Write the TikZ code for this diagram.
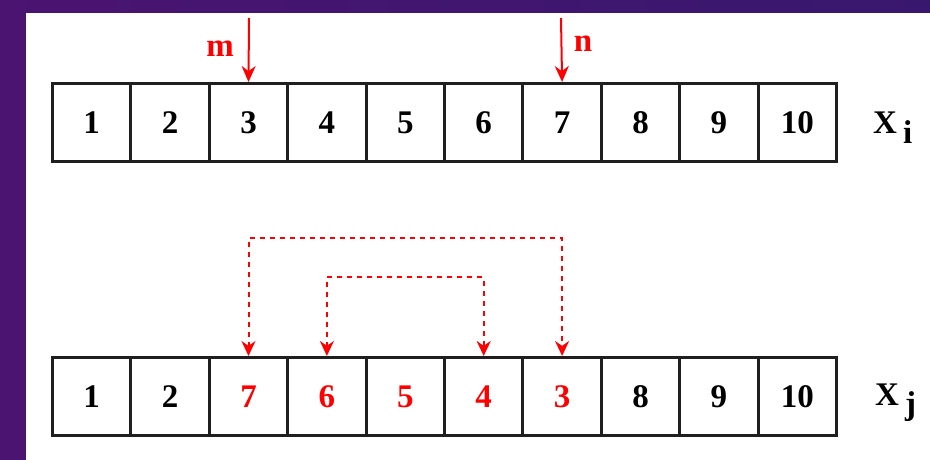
\documentclass[tikz,border=0pt]{standalone}
\usepackage{fontspec}
\setmainfont{Liberation Serif}
\usetikzlibrary{arrows.meta}
\definecolor{purpA}{RGB}{74,20,112}
\definecolor{purpB}{RGB}{56,24,110}
\begin{document}
\begin{tikzpicture}[x=1pt,y=-1pt,
  cell/.style={draw=black!88, line width=3pt, minimum width=78.4pt, minimum height=78pt,
    inner sep=0pt, font=\fontsize{33}{33}\selectfont\bfseries, anchor=north west},
  ptr/.style={draw=red, line width=2pt, -{Stealth[length=16pt,width=14pt]}},
  swaparrow/.style={draw=red, line width=2pt, dash pattern=on 5pt off 5pt,
    {Stealth[length=15pt,width=14pt]}-{Stealth[length=15pt,width=14pt]}},
  lbl/.style={text=red, inner sep=0pt, font=\fontsize{33}{33}\selectfont\bfseries},
  arrname/.style={inner sep=0pt, font=\fontsize{33}{33}\selectfont\bfseries}]
\fill[left color=purpA, right color=purpB] (0,0) rectangle (930,460);
\fill[white] (26,13) rectangle (930,460);
\useasboundingbox (0,0) rectangle (930,460);
% top row
\foreach \i in {1,...,10}
  \node[cell] (t\i) at ({51+(\i-1)*78.4},82) {\i};
% bottom row
\foreach \v/\c [count=\i] in {1/black,2/black,7/red,6/red,5/red,4/red,3/red,8/black,9/black,10/black}
  \node[cell, text=\c] (b\i) at ({51+(\i-1)*78.4},356) {\v};
% pointers
\coordinate (mtop) at (249,18);
\coordinate (ntop) at (561,18);
\draw[ptr] (mtop) -- (t3.north);
\draw[ptr] (ntop) -- (t7.north);
\node[lbl, anchor=base] (mlab) at (220,57) {m};
\node[lbl, anchor=base] (nlab) at (583,52) {n};
% array names
\node[arrname, anchor=base west] (xi) at (873,133) {X\hspace{6pt}\raisebox{-10pt}{i}};
\node[arrname, anchor=base west] (xj) at (875,405) {X\hspace{6pt}\raisebox{-9pt}{j}};
% swaps
\coordinate (outer) at (0,238);
\coordinate (inner) at (0,277);
\draw[swaparrow] (b3.north) -- (b3.north |- outer) -| (b7.north);
\draw[swaparrow] (b4.north) -- (b4.north |- inner) -| (b6.north);
\end{tikzpicture}
\end{document}
